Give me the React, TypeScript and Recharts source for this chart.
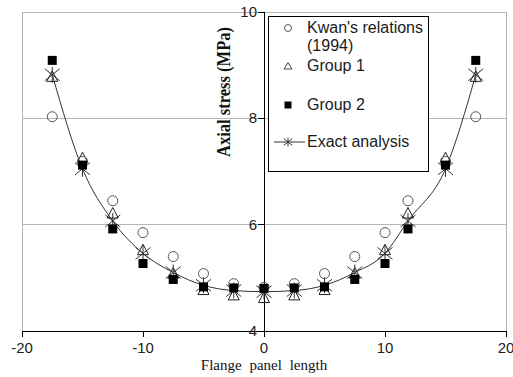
import {
  ComposedChart,
  Line,
  Scatter,
  XAxis,
  YAxis,
  CartesianGrid,
  ReferenceLine,
  Legend,
  Label,
} from 'recharts';

// flange panel positions (right side was measured at ~11.9, not 12.5)
const panelPos = [-17.5, -15, -12.5, -10, -7.5, -5, -2.5, 0, 2.5, 5, 7.5, 10, 11.9, 15, 17.5];
const kwan = [8.03, 7.19, 6.45, 5.85, 5.4, 5.08, 4.89, 4.82, 4.89, 5.08, 5.4, 5.85, 6.45, 7.19, 8.03];
const group1 = [8.78, 7.25, 6.21, 5.52, 5.08, 4.77, 4.67, 4.62, 4.67, 4.77, 5.08, 5.52, 6.21, 7.25, 8.78];
const group2 = [9.09, 7.12, 5.92, 5.27, 4.97, 4.83, 4.81, 4.8, 4.81, 4.83, 4.97, 5.27, 5.92, 7.12, 9.09];
const exact = [8.82, 7.05, 6.07, 5.46, 5.1, 4.86, 4.76, 4.74, 4.76, 4.86, 5.1, 5.46, 6.07, 7.05, 8.82];

const seriesNames = ["Kwan's relations (1994)", 'Group 1', 'Group 2', 'Exact analysis'];
const xTicks = [-20, -10, 0, 10, 20];
const yTicks = [4, 6, 8, 10];

const W = 513;
const H = 377;
const Y_AXIS_W = 1;
const MARGIN = { top: 12, right: 7, bottom: 16, left: 21 };
// y axis crosses at x = 0, the middle of a symmetric domain
const PLOT_LEFT = MARGIN.left + Y_AXIS_W;
const AXIS_X = PLOT_LEFT + (W - PLOT_LEFT - MARGIN.right) / 2;

const SANS = '"Liberation Sans", Arial, sans-serif';
const SERIF = '"Liberation Serif", "Times New Roman", serif';

const toPoints = (ys: number[]) => panelPos.map((x, i) => ({ x, y: ys[i] }));

const OpenCircle = (p: any) => (
  <circle cx={p.cx} cy={p.cy} r={5} fill="none" stroke="#555" strokeWidth={1} />
);

const OpenTriangle = (p: any) => (
  <path
    d={`M${p.cx},${p.cy - 6}L${p.cx + 5.5},${p.cy + 4.5}L${p.cx - 5.5},${p.cy + 4.5}Z`}
    fill="none"
    stroke="#222"
    strokeWidth={1}
  />
);

const FilledSquare = (p: any) => (
  <rect x={p.cx - 4.5} y={p.cy - 4.5} width={9} height={9} fill="#000" />
);

const StarMark = ({ cx, cy, s = 1 }: any) => (
  <g stroke="#333" strokeWidth={1}>
    <line x1={cx} y1={cy - 8 * s} x2={cx} y2={cy + 8 * s} />
    <line x1={cx - 7.5 * s} y1={cy - 6 * s} x2={cx + 7.5 * s} y2={cy + 6 * s} />
    <line x1={cx - 7.5 * s} y1={cy + 6 * s} x2={cx + 7.5 * s} y2={cy - 6 * s} />
  </g>
);

function YTick({ y, payload }: any) {
  return (
    <g>
      <line x1={AXIS_X - 6} x2={AXIS_X} y1={y} y2={y} stroke="#000" shapeRendering="crispEdges" />
      <text
        x={AXIS_X - 7}
        y={y}
        dy={5}
        textAnchor="end"
        fontSize={15}
        fontFamily={SANS}
        fill="#222"
      >
        {payload.value}
      </text>
    </g>
  );
}

function LegendBox() {
  const rowText = { position: 'absolute' as const, left: 38, lineHeight: '18px', width: 120 };
  const icon = (top: number) => ({ position: 'absolute' as const, left: 4, top, width: 32, height: 18 });
  return (
    <div
      style={{
        position: 'relative',
        width: 159,
        height: 154,
        border: '1px solid #000',
        background: '#fff',
        fontFamily: SANS,
        fontSize: 16,
        color: '#1a1a1a',
      }}
    >
      <svg style={icon(2)}>
        <circle cx={15} cy={9} r={3.5} fill="none" stroke="#555" />
      </svg>
      <div style={{ ...rowText, top: 2 }}>{seriesNames[0]}</div>

      <svg style={icon(40)}>
        <path d="M15,5.5L19,12L11,12Z" fill="none" stroke="#444" />
      </svg>
      <div style={{ ...rowText, top: 40 }}>{seriesNames[1]}</div>

      <svg style={icon(79)}>
        <rect x={11.5} y={5.5} width={7} height={7} fill="#000" />
      </svg>
      <div style={{ ...rowText, top: 79 }}>{seriesNames[2]}</div>

      <svg style={icon(116)}>
        <line x1={1} x2={33} y1={9} y2={9} stroke="#333" />
        <StarMark cx={15} cy={9} s={0.55} />
      </svg>
      <div style={{ ...rowText, top: 116 }}>{seriesNames[3]}</div>
    </div>
  );
}

export default function App() {
  return (
    <div style={{ position: 'absolute', left: 0, top: 0, background: '#fff' }}>
      <ComposedChart width={W} height={H} margin={MARGIN}>
        <CartesianGrid vertical={false} stroke="#b4b4b4" shapeRendering="crispEdges" />
        <XAxis
          type="number"
          dataKey="x"
          domain={[-20, 20]}
          ticks={xTicks}
          interval={0}
          height={30}
          tickSize={6}
          tickMargin={5}
          axisLine={{ stroke: '#000', shapeRendering: 'crispEdges' }}
          tickLine={{ stroke: '#000', shapeRendering: 'crispEdges' }}
          tick={{ fontSize: 15, fontFamily: SANS, fill: '#222' }}
        >
          <Label
            content={() => (
              <text
                x={AXIS_X}
                y={370}
                textAnchor="middle"
                fontSize={15}
                fontFamily={SERIF}
                fill="#111"
                style={{ wordSpacing: 4 }}
              >
                Flange panel length
              </text>
            )}
          />
        </XAxis>
        <YAxis
          type="number"
          domain={[4, 10]}
          ticks={yTicks}
          interval={0}
          width={Y_AXIS_W}
          axisLine={false}
          tickLine={false}
          tick={<YTick />}
        >
          <Label
            content={() => (
              <text
                x={230}
                y={92}
                transform="rotate(-90, 230, 92)"
                textAnchor="middle"
                fontSize={19}
                fontWeight="bold"
                fontFamily={SERIF}
                textLength={130}
                lengthAdjust="spacingAndGlyphs"
                fill="#111"
              >
                Axial stress (MPa)
              </text>
            )}
          />
        </YAxis>
        <ReferenceLine x={-20} stroke="#b4b4b4" shapeRendering="crispEdges" />
        <ReferenceLine x={20} stroke="#b4b4b4" shapeRendering="crispEdges" />
        <ReferenceLine y={10} stroke="#b4b4b4" shapeRendering="crispEdges" />
        <ReferenceLine x={0} stroke="#000" shapeRendering="crispEdges" />
        <Line
          data={toPoints(exact)}
          dataKey="y"
          type="monotone"
          stroke="#333"
          strokeWidth={1}
          dot={false}
          isAnimationActive={false}
        />
        <Scatter data={toPoints(exact)} dataKey="y" shape={StarMark} isAnimationActive={false} />
        <Scatter data={toPoints(group1)} dataKey="y" shape={OpenTriangle} isAnimationActive={false} />
        <Scatter data={toPoints(kwan)} dataKey="y" shape={OpenCircle} isAnimationActive={false} />
        <Scatter data={toPoints(group2)} dataKey="y" shape={FilledSquare} isAnimationActive={false} />
        <Legend
          layout="vertical"
          align="center"
          verticalAlign="middle"
          wrapperStyle={{ left: 268, top: 16, width: 161, height: 156 }}
          content={() => <LegendBox />}
        />
      </ComposedChart>
    </div>
  );
}
